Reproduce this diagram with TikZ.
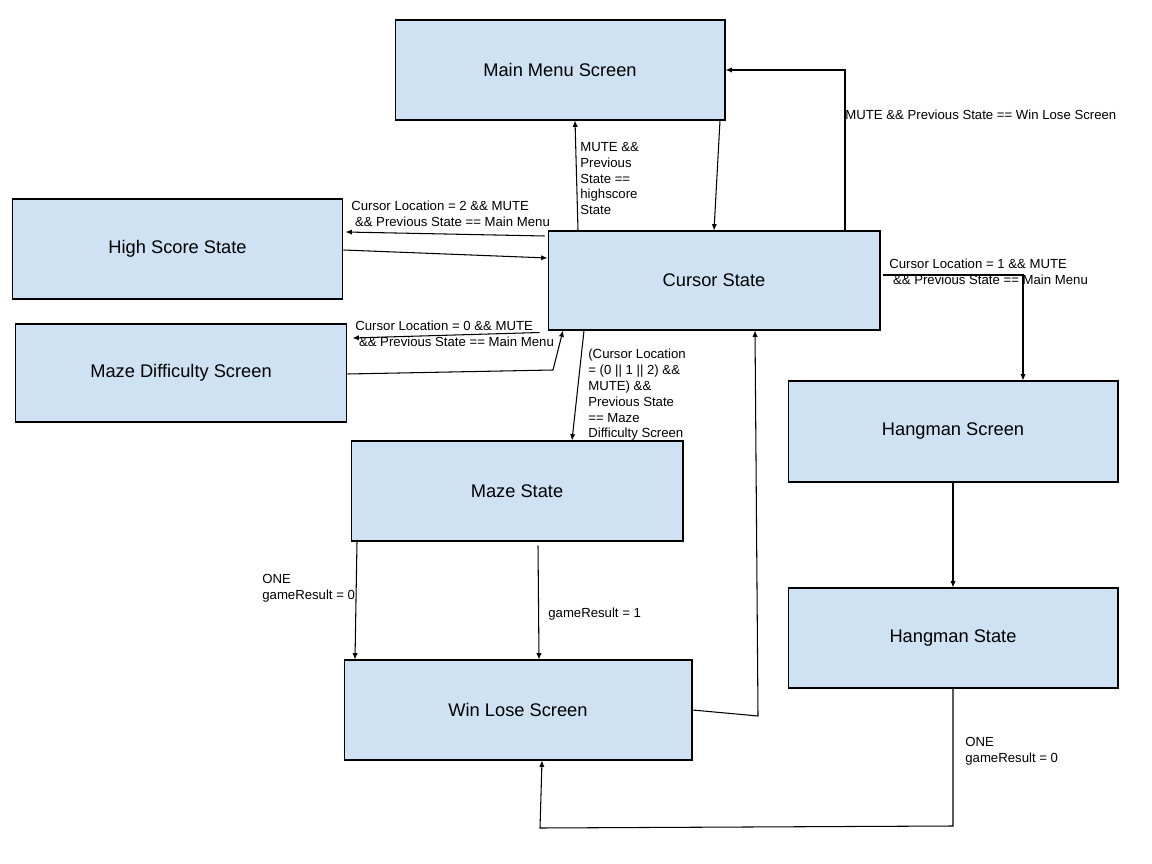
\documentclass[tikz,border=0pt]{standalone}
\usepackage{fontspec}
\setmainfont{Liberation Sans}
\usetikzlibrary{arrows.meta,calc}
\definecolor{boxfill}{HTML}{CFE2F3}
\begin{document}
\begin{tikzpicture}[x=0.02cm,y=-0.02cm,
  box/.style={draw=black,fill=boxfill,line width=0.6pt,inner sep=0pt,font=\fontsize{10.4}{12}\selectfont},
  lbl/.style={inner sep=0pt,anchor=north west,align=left,font=\fontsize{7.5}{9}\selectfont},
  arr/.style={line width=0.6pt,-{Latex[length=3.6pt,width=3pt]}},
  ln/.style={line width=0.6pt}]
\useasboundingbox (0,0) rectangle (1152,864);
% boxes
\node[box,minimum width=6.6cm,minimum height=2cm] (main) at (560,70) {\raisebox{-1pt}{Main Menu Screen}};
\node[box,minimum width=6.62cm,minimum height=2cm] (hs) at (177.5,249) {\raisebox{-1pt}{High Score State}};
\node[box,minimum width=6.64cm,minimum height=1.98cm] (cursor) at (714,280.5) {\raisebox{-1pt}{Cursor State}};
\node[box,minimum width=6.64cm,minimum height=1.96cm] (mdiff) at (181,373) {\raisebox{-1pt}{Maze Difficulty Screen}};
\node[box,minimum width=6.64cm,minimum height=2cm] (maze) at (517,491) {\raisebox{-1pt}{Maze State}};
\node[box,minimum width=6.6cm,minimum height=2.02cm] (hscreen) at (953,431.5) {\raisebox{-1pt}{Hangman Screen}};
\node[box,minimum width=6.6cm,minimum height=2cm] (hstate) at (953,638) {\raisebox{-1pt}{Hangman State}};
\node[box,minimum width=6.96cm,minimum height=2cm] (winlose) at (518,710) {\raisebox{-1pt}{Win Lose Screen}};
% cursor -> main (up)
\draw[arr] (578,0 |- cursor.north) -- (575,0 |- main.south);
\node[lbl] (l1) at (580,142) {MUTE \&\&\\Previous\\State ==\\highscore\\State};
% main -> cursor
\draw[arr] (720,0 |- main.south) -- (714,0 |- cursor.north);
% cursor -> main via right
\draw[arr] (845,0 |- cursor.north) -- (845,0 |- main.east) -- (main.east);
\node[lbl,anchor=west] (l2) at (845,115) {MUTE \&\& Previous State == Win Lose Screen};
% cursor -> high score
\draw[arr] ($(cursor.west |- 0,236)+(-3,0)$) -- ($(hs.east |- 0,232)+(2,0)$);
\node[lbl] (l3) at (351,201) {Cursor Location = 2 \&\& MUTE\\\ \&\& Previous State == Main Menu};
% high score -> cursor
\draw[arr] (hs.east |- 0,250) -- (cursor.west |- 0,258);
% cursor -> maze difficulty
\draw[arr] ($(cursor.south west)+(-8,2)$) -- ($(mdiff.east |- 0,338)+(5,0)$);
\node[lbl] (l4) at (355,321) {Cursor Location = 0 \&\& MUTE\\\ \&\& Previous State == Main Menu};
% maze difficulty -> cursor
\draw[arr] (mdiff.east |- 0,374) -- (553,370) -- (563,0 |- cursor.south);
% cursor -> maze
\draw[arr] (584,0 |- cursor.south) -- (572,0 |- maze.north);
\node[lbl] (l5) at (588,349) {(Cursor Location\\= (0 || 1 || 2) \&\&\\MUTE) \&\&\\Previous State\\== Maze\\Difficulty Screen};
% cursor -> hangman screen
\draw[arr] ($(cursor.east |- 0,275)+(2,0)$) -- (1023,275) -- (1023,0 |- hscreen.north);
\node[lbl] (l6) at (889,259) {Cursor Location = 1 \&\& MUTE\\\ \&\& Previous State == Main Menu};
% maze -> winlose (0)
\draw[arr] (357,0 |- maze.south) -- (355,0 |- winlose.north);
\node[lbl] (l7) at (262,574) {ONE\\gameResult = 0};
% maze -> winlose (1)
\draw[arr] ($(538,0 |- maze.south)+(0,4)$) -- (539,0 |- winlose.north);
\node[lbl,anchor=west] (l8) at (548,614) {gameResult = 1};
% winlose -> cursor
\draw[arr] (winlose.east |- 0,710) -- (758,716) -- (755,0 |- cursor.south);
% hangman screen -> hangman state
\draw[arr] (hscreen.south) -- (hstate.north);
% hangman state -> winlose
\draw[arr] (hstate.south) -- (953,826) -- (540,828) -- (542,0 |- winlose.south);
\node[lbl] (l9) at (965,737) {ONE\\gameResult = 0};
\end{tikzpicture}
\end{document}
